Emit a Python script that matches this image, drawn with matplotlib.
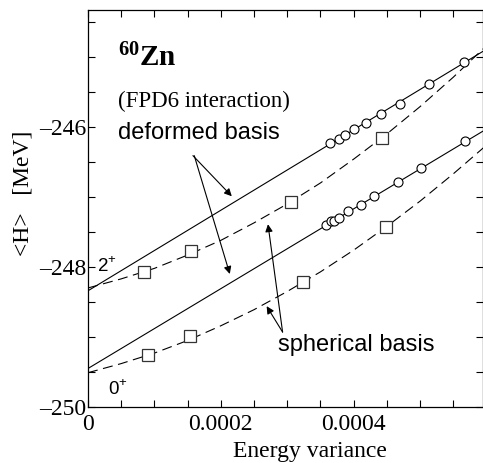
import numpy as np
import matplotlib
matplotlib.use("Agg")
import matplotlib.pyplot as plt
from matplotlib.ticker import MultipleLocator, FixedLocator

plt.rcParams["font.family"] = "Liberation Serif"
plt.rcParams["mathtext.fontset"] = "custom"
plt.rcParams["mathtext.rm"] = "Liberation Serif"
plt.rcParams["mathtext.bf"] = "Liberation Serif:bold"
plt.rcParams["mathtext.sf"] = "Liberation Sans"

# deformed basis (circles, linear extrapolation)
var_def_2 = [0.000365, 0.000378, 0.000387, 0.000401, 0.000419, 0.000441, 0.000470, 0.000513, 0.000566]
e_def_2 = [-246.23, -246.17, -246.11, -246.03, -245.94, -245.81, -245.67, -245.39, -245.07]
var_def_0 = [0.000358, 0.000366, 0.000370, 0.000378, 0.000392, 0.000411, 0.000431, 0.000467, 0.000502, 0.000568]
e_def_0 = [-247.40, -247.35, -247.34, -247.30, -247.20, -247.11, -246.99, -246.79, -246.59, -246.20]

fit_x = [0.0, 0.0006]
fit_def_2 = [-248.34, -244.89]
fit_def_0 = [-249.45, -246.03]

# spherical basis (squares, curved extrapolation)
var_sph_2 = [0.0000842, 0.0001553, 0.000306, 0.000442]
e_sph_2 = [-248.07, -247.77, -247.07, -246.16]
var_sph_0 = [0.0000902, 0.0001534, 0.000323, 0.000449]
e_sph_0 = [-249.26, -248.99, -248.22, -247.43]

curve_x = [0.0, 0.00005, 0.0001, 0.00015, 0.0002, 0.00025, 0.0003, 0.00035,
           0.0004, 0.00045, 0.0005, 0.00055, 0.0006]
curve_sph_2 = [-248.30, -248.17, -248.02, -247.83, -247.62, -247.37, -247.10, -246.80,
               -246.46, -246.10, -245.71, -245.29, -244.84]
curve_sph_0 = [-249.51, -249.38, -249.23, -249.05, -248.84, -248.61, -248.35, -248.07,
               -247.76, -247.42, -247.06, -246.67, -246.26]

y_ticklabels = [-250, -248, -246]
x_ticklabels = [0, 0.0002, 0.0004]

fig = plt.figure(figsize=(4.83, 4.63), dpi=100)
ax = fig.add_axes([88 / 483, 56 / 463, 394.5 / 483, 397 / 463])

dash = (0, (9, 5))
ax.plot(fit_x, fit_def_2, "-", color="k", lw=0.8)
ax.plot(fit_x, fit_def_0, "-", color="k", lw=0.8)
ax.plot(curve_x, curve_sph_2, linestyle=dash, color="k", lw=0.8)
ax.plot(curve_x, curve_sph_0, linestyle=dash, color="k", lw=0.8)

ax.plot(var_def_2, e_def_2, "o", ms=6.5, mfc="white", mec="k", mew=0.8)
ax.plot(var_def_0, e_def_0, "o", ms=6.5, mfc="white", mec="k", mew=0.8)
ax.plot(var_sph_2, e_sph_2, "s", ms=8.5, mfc="white", mec="#333333", mew=0.9)
ax.plot(var_sph_0, e_sph_0, "s", ms=8.5, mfc="white", mec="#333333", mew=0.9)

ax.set_xlim(0, 0.000594)
ax.set_ylim(-250, -244.33)

ax.xaxis.set_major_locator(FixedLocator(x_ticklabels))
ax.xaxis.set_minor_locator(MultipleLocator(0.00005))
ax.yaxis.set_major_locator(FixedLocator(y_ticklabels))
ax.yaxis.set_minor_locator(MultipleLocator(0.5))
ax.set_xticklabels(["0", "0.0002", "0.0004"])
ax.set_yticklabels(["\u2013250", "\u2013248", "\u2013246"])
ax.tick_params(which="both", direction="in", top=True, right=True, length=5, width=0.8)
ax.tick_params(axis="x", labelsize=17, pad=5)
ax.tick_params(axis="y", labelsize=17, pad=1.5)
for s in ax.spines.values():
    s.set_linewidth(0.9)

arrow = dict(arrowstyle="-|>", lw=0.8, color="k", mutation_scale=11, shrinkA=0, shrinkB=0)
ax.annotate("", xy=(0.0002165, -246.99), xytext=(0.000158, -246.41), arrowprops=arrow)
ax.annotate("", xy=(0.0002135, -248.10), xytext=(0.000160, -246.41), arrowprops=arrow)
ax.annotate("", xy=(0.000271, -247.39), xytext=(0.000293, -248.93), arrowprops=arrow)
ax.annotate("", xy=(0.000269, -248.56), xytext=(0.000293, -248.93), arrowprops=arrow)

ax.text(0.0000451, -245.14, r"$\mathbf{^{60}Zn}$", fontsize=21, va="baseline")
ax.text(0.0000451, -245.71, "(FPD6 interaction)", fontsize=16.5, va="baseline")
ax.text(0.0000451, -246.17, "deformed basis", fontsize=17, family="Liberation Sans", va="baseline")
ax.text(0.0002857, -249.196, "spherical basis", fontsize=17, family="Liberation Sans", va="baseline")
ax.text(0.0000135, -248.07, r"2$^{\mathsf{+}}$", fontsize=13.5, family="Liberation Sans", va="baseline")
ax.text(0.0000301, -249.83, r"0$^{\mathsf{+}}$", fontsize=13.5, family="Liberation Sans", va="baseline")

fig.text(310 / 483, 6 / 463, "Energy variance", fontsize=17, ha="center", va="baseline")
fig.text(23 / 483, 1 - 193 / 463, "<H>   [MeV]", fontsize=17, rotation=90, ha="center", va="center")

fig.savefig("out.png", dpi=100)
